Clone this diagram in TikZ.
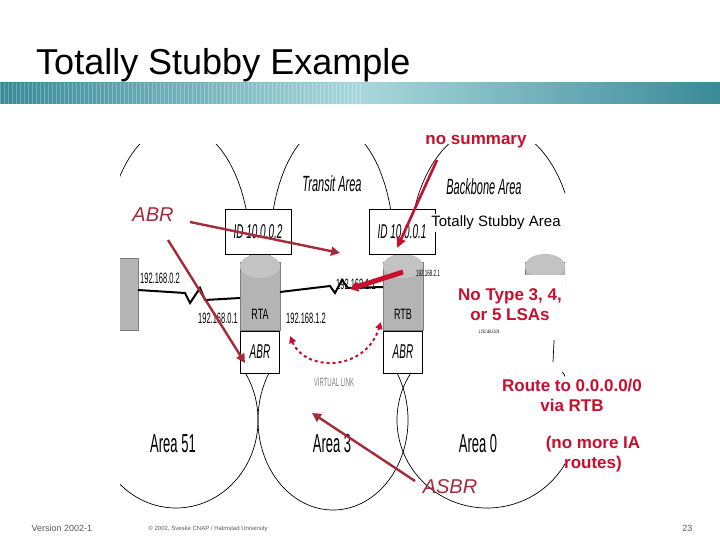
\documentclass[tikz,border=0pt]{standalone}
\usepackage{fontspec}
\setmainfont{Liberation Sans}
\usetikzlibrary{arrows.meta,decorations.pathmorphing}
\definecolor{ann}{HTML}{A52A3A}
\definecolor{hot}{HTML}{C8102E}
\definecolor{tealD}{HTML}{3A8A98}
\definecolor{tealL}{HTML}{A8D8DC}
\definecolor{rgrey}{HTML}{B4B4B4}
\tikzset{
  redtxt/.style={text=hot,font=\bfseries\fontsize{17}{20}\selectfont,align=center},
  abrtxt/.style={text=ann,font=\itshape\fontsize{20}{24}\selectfont},
  annarrow/.style={draw=ann,line width=2.4pt,-{Triangle[length=9pt,width=9pt]}},
  idbox/.style={draw,line width=1pt,fill=white,minimum width=66pt,minimum height=44pt,inner sep=0pt},
  abrbox/.style={draw,line width=1pt,fill=white,minimum width=39pt,minimum height=42pt,inner sep=0pt},
  cond/.style={font=\fontsize{20}{20}\selectfont},
  area/.style={draw,line width=0.7pt},
  router/.style={fill=rgrey,draw=rgrey!70!black,line width=0.4pt},
}
\newcommand{\nar}[2][0.55]{\scalebox{#1}[1]{#2}}
\begin{document}
\begin{tikzpicture}[x=1pt,y=-1pt]
\useasboundingbox (0,0) rectangle (720,540);
\fill[white] (0,0) rectangle (720,540);
% title
\node[anchor=base west,font=\fontsize{36}{40}\selectfont,inner sep=0pt] (title) at (36,75) {Totally Stubby Example};
\shade[left color=tealD,right color=tealD,middle color=tealL] (0,83) rectangle (720,104);
\foreach \i in {0,4,...,360} \draw[white,opacity=0.25,line width=0.8pt] (\i,83) -- (\i,104);
% area ellipses (bottom)
\begin{scope}
\clip (120,372) rectangle (565,510);
\draw[area] (176,420) ellipse [x radius=82,y radius=88];
\draw[area] (333,420) ellipse [x radius=75,y radius=90];
\draw[area] (487,420) ellipse [x radius=90,y radius=88];
\end{scope}
% area ellipses (top)
\begin{scope}
\clip (120,145) rectangle (565,258);
\draw[area] (178,250) ellipse [x radius=72,y radius=125];
\draw[area] (332,250) ellipse [x radius=62,y radius=125];
\draw[area] (492,250) ellipse [x radius=82,y radius=125];
\end{scope}
\draw[area] (556,300) -- (553,362);
\node[font=\fontsize{5}{5}\selectfont] (tiny) at (489,332) {\nar{1 192.168.2.0/24}};
% routers
\begin{scope}
\clip (120,240) rectangle (565,340);
\fill[router] (112,258) rectangle (138,330);
\fill[router] (240,262) rectangle (280,330);
\fill[router] (383,262) rectangle (423,330);
\fill[router] (525,262) rectangle (570,290);
\fill[rgrey!80] (260,266) ellipse [x radius=20,y radius=12];
\fill[rgrey!80] (403,266) ellipse [x radius=20,y radius=12];
\fill[rgrey!80] (545,266) ellipse [x radius=20,y radius=12];
\fill[white] (520,275) rectangle (570,340);
\end{scope}
\node[font=\fontsize{15}{15}\selectfont] (rtal) at (260,314) {\nar[0.6]{RTA}};
\node[font=\fontsize{15}{15}\selectfont] (rtbl) at (403,314) {\nar[0.6]{RTB}};
% serial links
\draw[line width=2pt] (138,290) -- (185,293) -- (190,303) -- (200,288) -- (205,300) -- (240,298);
\draw[line width=2pt] (280,292) -- (330,286) -- (335,293) -- (342,280) -- (348,288) -- (383,287);
% boxes
\node[idbox,cond] (id2) at (258,232) {\nar[0.5]{\itshape ID 10.0.0.2}};
\node[idbox,cond] (id1) at (402,232) {\nar[0.5]{\itshape ID 10.0.0.1}};
\node[abrbox,cond] (abra) at (260,352) {\nar[0.5]{\itshape ABR}};
\node[abrbox,cond] (abrb) at (403,352) {\nar[0.5]{\itshape ABR}};
% ip labels
\node[font=\fontsize{15}{15}\selectfont] (ip02) at (160,278) {\nar[0.5]{192.168.0.2}};
\node[font=\fontsize{15}{15}\selectfont] (ip01) at (218,318) {\nar[0.5]{192.168.0.1}};
\node[font=\fontsize{15}{15}\selectfont] (ip12) at (306,318) {\nar[0.5]{192.168.1.2}};
\node[font=\fontsize{15}{15}\selectfont] (ip11) at (356,284) {\nar[0.5]{192.168.1.1}};
\node[font=\fontsize{9}{9}\selectfont] (ip21) at (428,273) {\nar[0.5]{192.168.2.1}};
% area labels
\node[font=\fontsize{22}{22}\selectfont] (ta) at (332,184) {\nar[0.5]{\itshape Transit Area}};
\node[font=\fontsize{22}{22}\selectfont] (ba) at (484,187) {\nar[0.5]{\itshape Backbone Area}};
\node[font=\fontsize{26}{26}\selectfont] (a51) at (173,444) {\nar[0.5]{Area 51}};
\node[font=\fontsize{26}{26}\selectfont] (a3) at (332,444) {\nar[0.5]{Area 3}};
\node[font=\fontsize{26}{26}\selectfont] (a0) at (478,444) {\nar[0.5]{Area 0}};
\node[text=gray,font=\fontsize{12}{12}\selectfont] (vl) at (334,382) {\nar[0.5]{VIRTUAL LINK}};
% virtual link
\coordinate (vla) at (290,336);
\coordinate (vlb) at (381,322);
\draw[hot,dashed,line width=2pt,{Triangle[length=7pt,width=7pt]}-{Triangle[length=7pt,width=7pt]}] (vla) .. controls (305,372) and (365,372) .. (vlb);
% annotations
\node[text=hot,font=\bfseries\fontsize{17}{20}\selectfont] (nosum) at (476,142) {no summary};
\node[fill=white,font=\fontsize{15}{18}\selectfont,inner sep=2pt] (tsa) at (496,223) {Totally Stubby Area};
\node[redtxt] (notype) at (510,305) {No Type 3, 4,\\ or 5 LSAs};
\node[redtxt] (route) at (572,395) {Route to 0.0.0.0/0\\via RTB};
\node[redtxt] (noia) at (593,454) {(no more IA\\routes)};
\node[abrtxt] (abr) at (153,215) {ABR};
\node[abrtxt] (asbr) at (450,487) {ASBR};
\coordinate (t1) at (340,253);
\coordinate (t2) at (245,363);
\coordinate (t3) at (312,413);
\coordinate (t4) at (397,248);
\coordinate (t5) at (350,289);
\coordinate (s5) at (403,272);
\draw[annarrow] (190,222) -- (t1);
\draw[annarrow] (168,240) -- (t2);
\draw[annarrow] (415,481) -- (t3);
\draw[draw=hot,line width=2.6pt,-{Triangle[length=10pt,width=9pt]}] (437,160) -- (t4);
\draw[draw=hot,line width=5pt,-{Triangle[length=8pt,width=10pt]}] (s5) -- (t5);
% footer
\node[anchor=west,text=gray!70!black,font=\fontsize{9}{9}\selectfont] (ver) at (28,528) {Version 2002-1};
\node[anchor=west,text=gray!70!black,font=\fontsize{6}{6}\selectfont] (copy) at (145,529) {© 2002, Sveske CNAP / Halmstad University};
\node[anchor=east,text=gray!70!black,font=\fontsize{9}{9}\selectfont] (pg) at (696,528) {23};
\end{tikzpicture}
\end{document}
